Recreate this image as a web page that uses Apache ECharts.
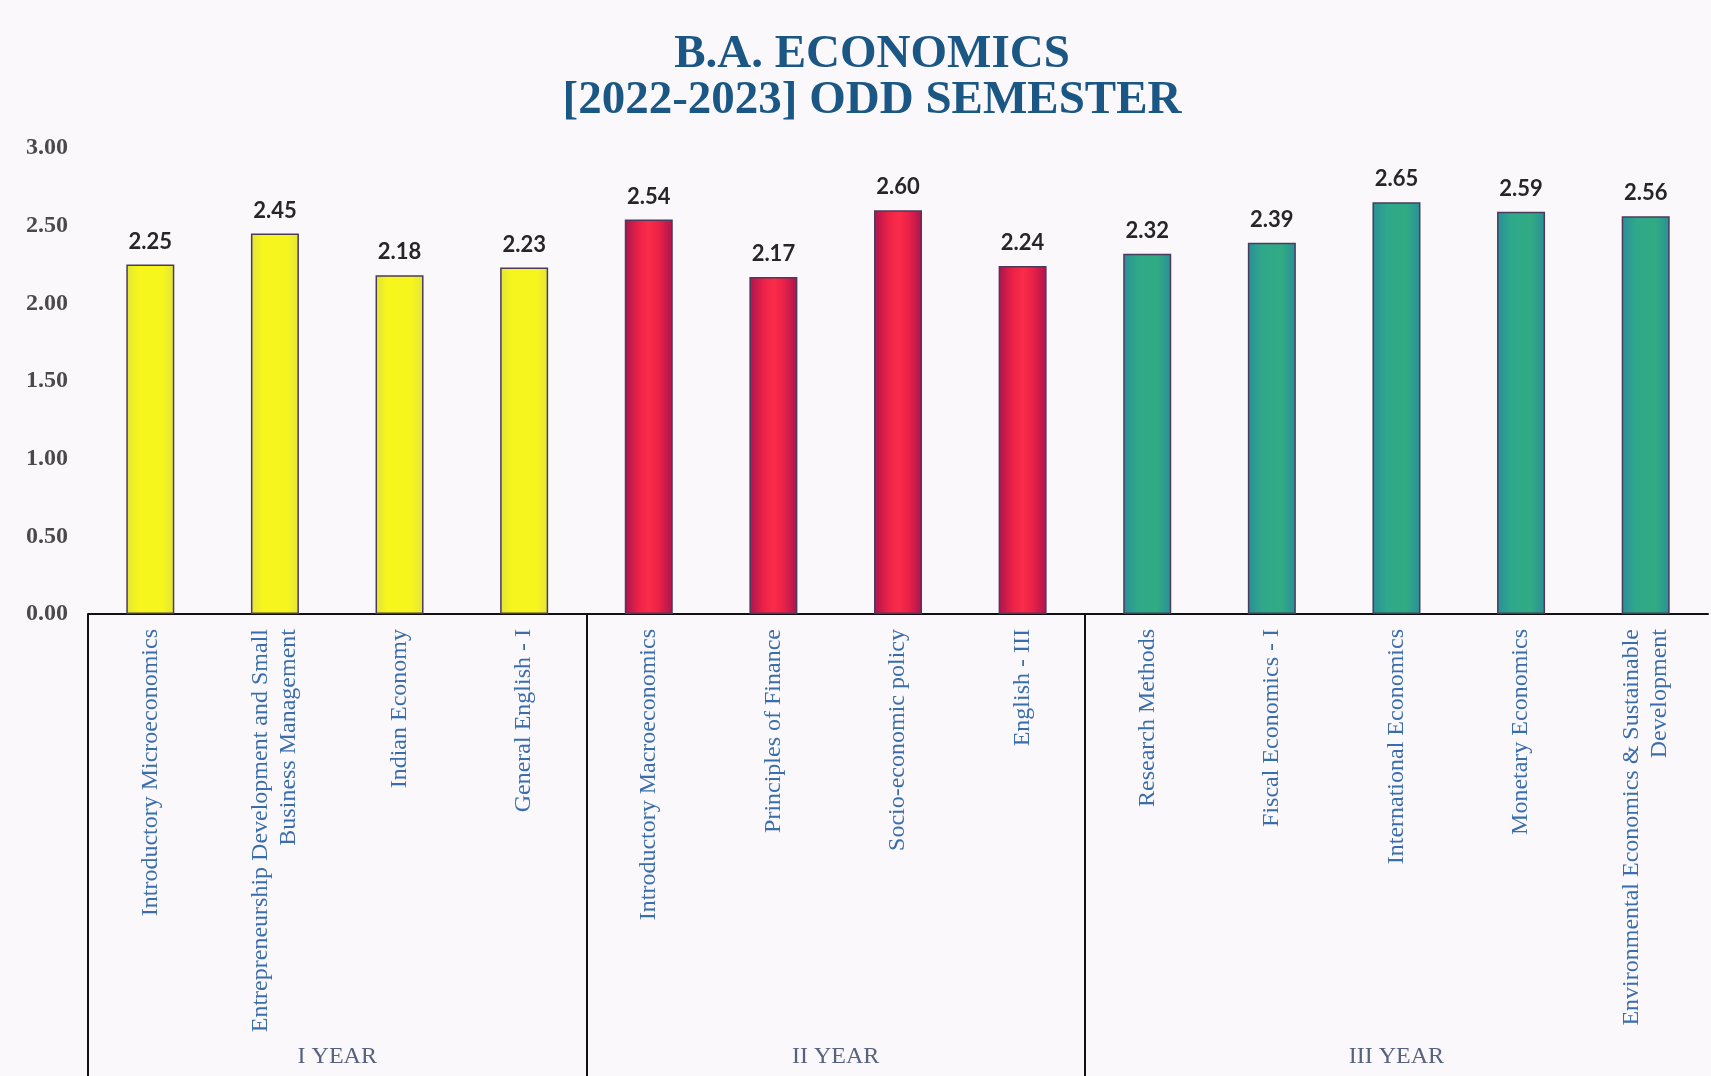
<!DOCTYPE html>
<html>
<head>
<meta charset="utf-8">
<script src="https://cdn.jsdelivr.net/npm/echarts@6/dist/echarts.min.js"></script>
<style>
  html, body { margin: 0; padding: 0; background: #fbf8fb; }
  #chart { width: 1711px; height: 1076px; }
</style>
</head>
<body>
<div id="chart"></div>
<script>
// ---- data ----
var subjects = [
  'Introductory Microeconomics',
  'Entrepreneurship Development and Small\nBusiness Management',
  'Indian Economy',
  'General English - I',
  'Introductory Macroeconomics',
  'Principles of Finance',
  'Socio-economic policy',
  'English - III',
  'Research Methods',
  'Fiscal Economics - I',
  'International Economics',
  'Monetary Economics',
  'Environmental Economics & Sustainable\nDevelopment'
];
var scores = [2.25, 2.45, 2.18, 2.23, 2.54, 2.17, 2.60, 2.24, 2.32, 2.39, 2.65, 2.59, 2.56];
var yearLabels = ['I YEAR', 'II YEAR', 'III YEAR'];
var yearCounts = [4, 4, 5];
var yTicks = [0, 0.5, 1, 1.5, 2, 2.5, 3];

// ---- styles ----
var yearFills = [
  new echarts.graphic.LinearGradient(0, 0, 1, 0, [
    {offset: 0, color: '#e4e43a'}, {offset: 0.25, color: '#f6f61c'},
    {offset: 0.75, color: '#f6f61c'}, {offset: 1, color: '#e4e43a'}]),
  new echarts.graphic.LinearGradient(0, 0, 1, 0, [
    {offset: 0, color: '#ac1450'}, {offset: 0.3, color: '#ec2246'},
    {offset: 0.5, color: '#fb2c4a'}, {offset: 0.7, color: '#ec2246'}, {offset: 1, color: '#ac1450'}]),
  new echarts.graphic.LinearGradient(0, 0, 1, 0, [
    {offset: 0, color: '#2a8f9a'}, {offset: 0.3, color: '#2fa88a'},
    {offset: 0.7, color: '#31ab82'}, {offset: 1, color: '#2a8f9a'}])
];

// build bar items and group axis from the arrays
var barData = [];
var idx = 0;
yearCounts.forEach(function (n, g) {
  for (var k = 0; k < n; k++) {
    barData.push({ value: scores[idx], itemStyle: { color: yearFills[g] } });
    idx++;
  }
});
// half-category points (boundaryGap false) for year group axis
var halfPoints = [];
for (var i = 0; i <= subjects.length * 2; i++) halfPoints.push('');
var boundaryIdx = [];
var start = 0;
yearCounts.forEach(function (n, g) {
  boundaryIdx.push(start * 2);
  halfPoints[start * 2 + n] = yearLabels[g];
  start += n;
});

var chart = echarts.init(document.getElementById('chart'), null, { renderer: 'canvas' });
chart.setOption({
  backgroundColor: '#fbf8fb',
  animation: false,
  title: {
    text: 'B.A. ECONOMICS\n[2022-2023] ODD SEMESTER',
    left: 867,
    textAlign: 'center',
    top: 27,
    textStyle: {
      fontFamily: 'Liberation Serif',
      fontWeight: 'bold',
      fontSize: 47,
      lineHeight: 46,
      color: '#1b5784',
      align: 'center'
    }
  },
  grid: { left: 88, right: -3, top: 148, bottom: 462, containLabel: false },
  xAxis: [
    {
      type: 'category',
      data: subjects,
      position: 'bottom',
      axisLine: { show: true, lineStyle: { color: '#111', width: 2 } },
      axisTick: { show: false },
      axisLabel: {
        interval: 0,
        rotate: 90,
        margin: 15,
        fontFamily: 'Liberation Serif',
        fontSize: 24,
        lineHeight: 28,
        color: '#3a6dab',
        align: 'right'
      }
    },
    {
      type: 'category',
      data: halfPoints,
      boundaryGap: false,
      position: 'bottom',
      axisLine: { show: false },
      axisTick: {
        show: true,
        length: 462,
        interval: function (index) { return boundaryIdx.indexOf(index) >= 0; },
        lineStyle: { color: '#111', width: 2 }
      },
      axisLabel: {
        interval: 0,
        margin: 431,
        fontFamily: 'Liberation Serif',
        fontSize: 24,
        color: '#56627f'
      }
    }
  ],
  yAxis: {
    type: 'value',
    min: yTicks[0],
    max: yTicks[yTicks.length - 1],
    interval: yTicks[1] - yTicks[0],
    axisLine: { show: false },
    axisTick: { show: false },
    splitLine: { show: false },
    axisLabel: {
      margin: 20,
      fontFamily: 'Liberation Serif',
      fontWeight: 'bold',
      fontSize: 24,
      color: '#4a4a4a',
      formatter: function (v) { return v.toFixed(2); }
    }
  },
  series: [{
    type: 'bar',
    xAxisIndex: 0,
    data: barData,
    barWidth: 48,
    itemStyle: { borderColor: '#4b3a5c', borderWidth: 1.5 },
    label: {
      show: true,
      position: 'top',
      distance: 12,
      fontFamily: 'Lato',
      fontWeight: 'bold',
      fontSize: 22,
      color: '#262626',
      formatter: function (p) { return p.value.toFixed(2); }
    }
  }]
});
</script>
</body>
</html>
